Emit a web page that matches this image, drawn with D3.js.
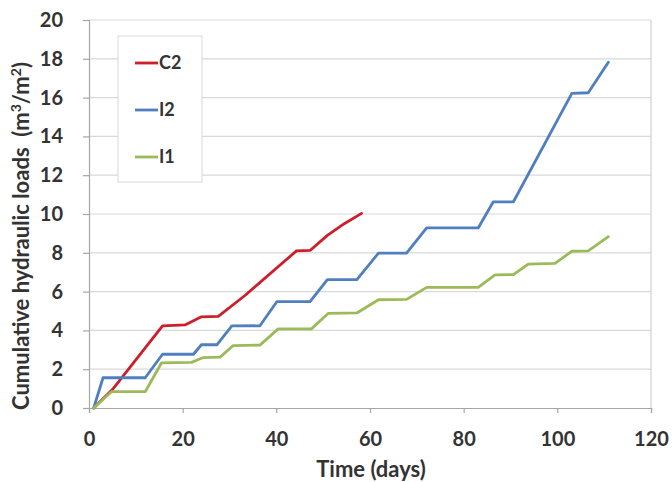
<!DOCTYPE html>
<html>
<head>
<meta charset="utf-8">
<script src="https://cdn.jsdelivr.net/npm/d3@7"></script>
<style>
body { margin: 0; background: #fff; }
text { font-family: Lato, "Open Sans", sans-serif; font-weight: bold; fill: #333; }
</style>
</head>
<body>
<svg width="672" height="482"></svg>
<script>
// series: [day, m3/m2]
var seriesNames = ["C2", "I2", "I1"];
var seriesColors = ["#cc1f2b", "#4f7fbf", "#9bbb59"];

var c2 = [[1,0],[5,0.95],[15.7,4.23],[20.5,4.28],[24,4.7],[27.6,4.72],[33.3,5.8],[44.3,8.1],[47.2,8.12],[50.9,8.9],[54.5,9.5],[58.2,10.03]];
var i2 = [[1,0],[3,1.56],[12,1.56],[15.7,2.77],[22.3,2.77],[24,3.26],[27.3,3.26],[30.5,4.23],[36.5,4.24],[40.1,5.48],[47.2,5.48],[50.9,6.62],[57.2,6.62],[61.8,7.98],[67.8,7.98],[72.1,9.28],[83.1,9.28],[86.3,10.62],[90.6,10.62],[103.1,16.22],[106.6,16.25],[110.9,17.82]];
var i1 = [[1,0],[4.8,0.84],[12,0.84],[15.5,2.33],[21.9,2.35],[24.4,2.6],[28,2.62],[30.8,3.22],[36.5,3.24],[40.4,4.08],[47.5,4.08],[51.1,4.88],[57.2,4.9],[61.8,5.58],[67.8,5.6],[72.1,6.22],[83.1,6.22],[86.7,6.86],[90.6,6.88],[93.8,7.42],[99.5,7.45],[103.1,8.08],[106.6,8.1],[110.9,8.83]];
var allSeries = [c2, i2, i1];

var xTicks = [0, 20, 40, 60, 80, 100, 120];
var yTicks = [0, 2, 4, 6, 8, 10, 12, 14, 16, 18, 20];

var svg = d3.select("svg");
var pLeft = 89, pRight = 651, pTop = 20, pBottom = 408;

var x = d3.scaleLinear().domain([0, 120]).range([pLeft, pRight]);
var y = d3.scaleLinear().domain([0, 20]).range([pBottom, pTop]);

// gridlines
svg.append("g").selectAll("line")
  .data(yTicks.slice(1))
  .enter().append("line")
    .attr("x1", pLeft).attr("x2", pRight)
    .attr("y1", function(d) { return y(d); })
    .attr("y2", function(d) { return y(d); })
    .attr("stroke", "#d9d9d9").attr("stroke-width", 1.2);

// plot frame right side
svg.append("line").attr("x1", pRight).attr("x2", pRight).attr("y1", pTop).attr("y2", pBottom)
  .attr("stroke", "#d0d0d0").attr("stroke-width", 1.2);

var xAxis = svg.append("g")
  .attr("transform", "translate(0," + pBottom + ")")
  .call(d3.axisBottom(x).tickValues(xTicks).tickSize(5).tickPadding(19));
var yAxis = svg.append("g")
  .attr("transform", "translate(" + pLeft + ",0)")
  .call(d3.axisLeft(y).tickValues(yTicks).tickSize(6).tickPadding(20));

[xAxis, yAxis].forEach(function(ax) {
  ax.select(".domain").attr("stroke", "#a6a6a6").attr("stroke-width", 1.2);
  ax.selectAll(".tick line").attr("stroke", "#a6a6a6").attr("stroke-width", 1.2);
  ax.selectAll(".tick text").style("font-size", "20px").attr("fill", "#333");
});

var line = d3.line()
  .x(function(d) { return x(d[0]); })
  .y(function(d) { return y(d[1]); });

svg.append("g").selectAll("path")
  .data(allSeries)
  .enter().append("path")
    .attr("d", line)
    .attr("fill", "none")
    .attr("stroke", function(d, i) { return seriesColors[i]; })
    .attr("stroke-width", 2.8)
    .attr("stroke-linejoin", "round")
    .attr("stroke-linecap", "round");

// legend
var legend = svg.append("g");
legend.append("rect")
  .attr("x", 118).attr("y", 36).attr("width", 84).attr("height", 146)
  .attr("fill", "#fff").attr("stroke", "#d9d9d9").attr("stroke-width", 1);
var legendY = [63, 110, 157];
seriesNames.forEach(function(name, i) {
  legend.append("line")
    .attr("x1", 135).attr("x2", 158)
    .attr("y1", legendY[i]).attr("y2", legendY[i])
    .attr("stroke", seriesColors[i]).attr("stroke-width", 2.8);
  legend.append("text")
    .attr("x", 159).attr("y", legendY[i]).attr("dy", "0.36em")
    .style("font-size", "18px")
    .text(name);
});

// axis titles
svg.append("text")
  .attr("x", 371).attr("y", 477)
  .attr("text-anchor", "middle")
  .style("font-size", "22px")
  .text("Time (days)");

svg.append("text")
  .attr("transform", "translate(21,236) rotate(-90)")
  .attr("text-anchor", "middle")
  .attr("dy", "0.36em")
  .style("font-size", "22px")
  .html("Cumulative hydraulic loads\u00a0 (m<tspan dy='-8' font-size='14'>3</tspan><tspan dy='8'>/m</tspan><tspan dy='-8' font-size='14'>2</tspan><tspan dy='8'>)</tspan>");
</script>
</body>
</html>
